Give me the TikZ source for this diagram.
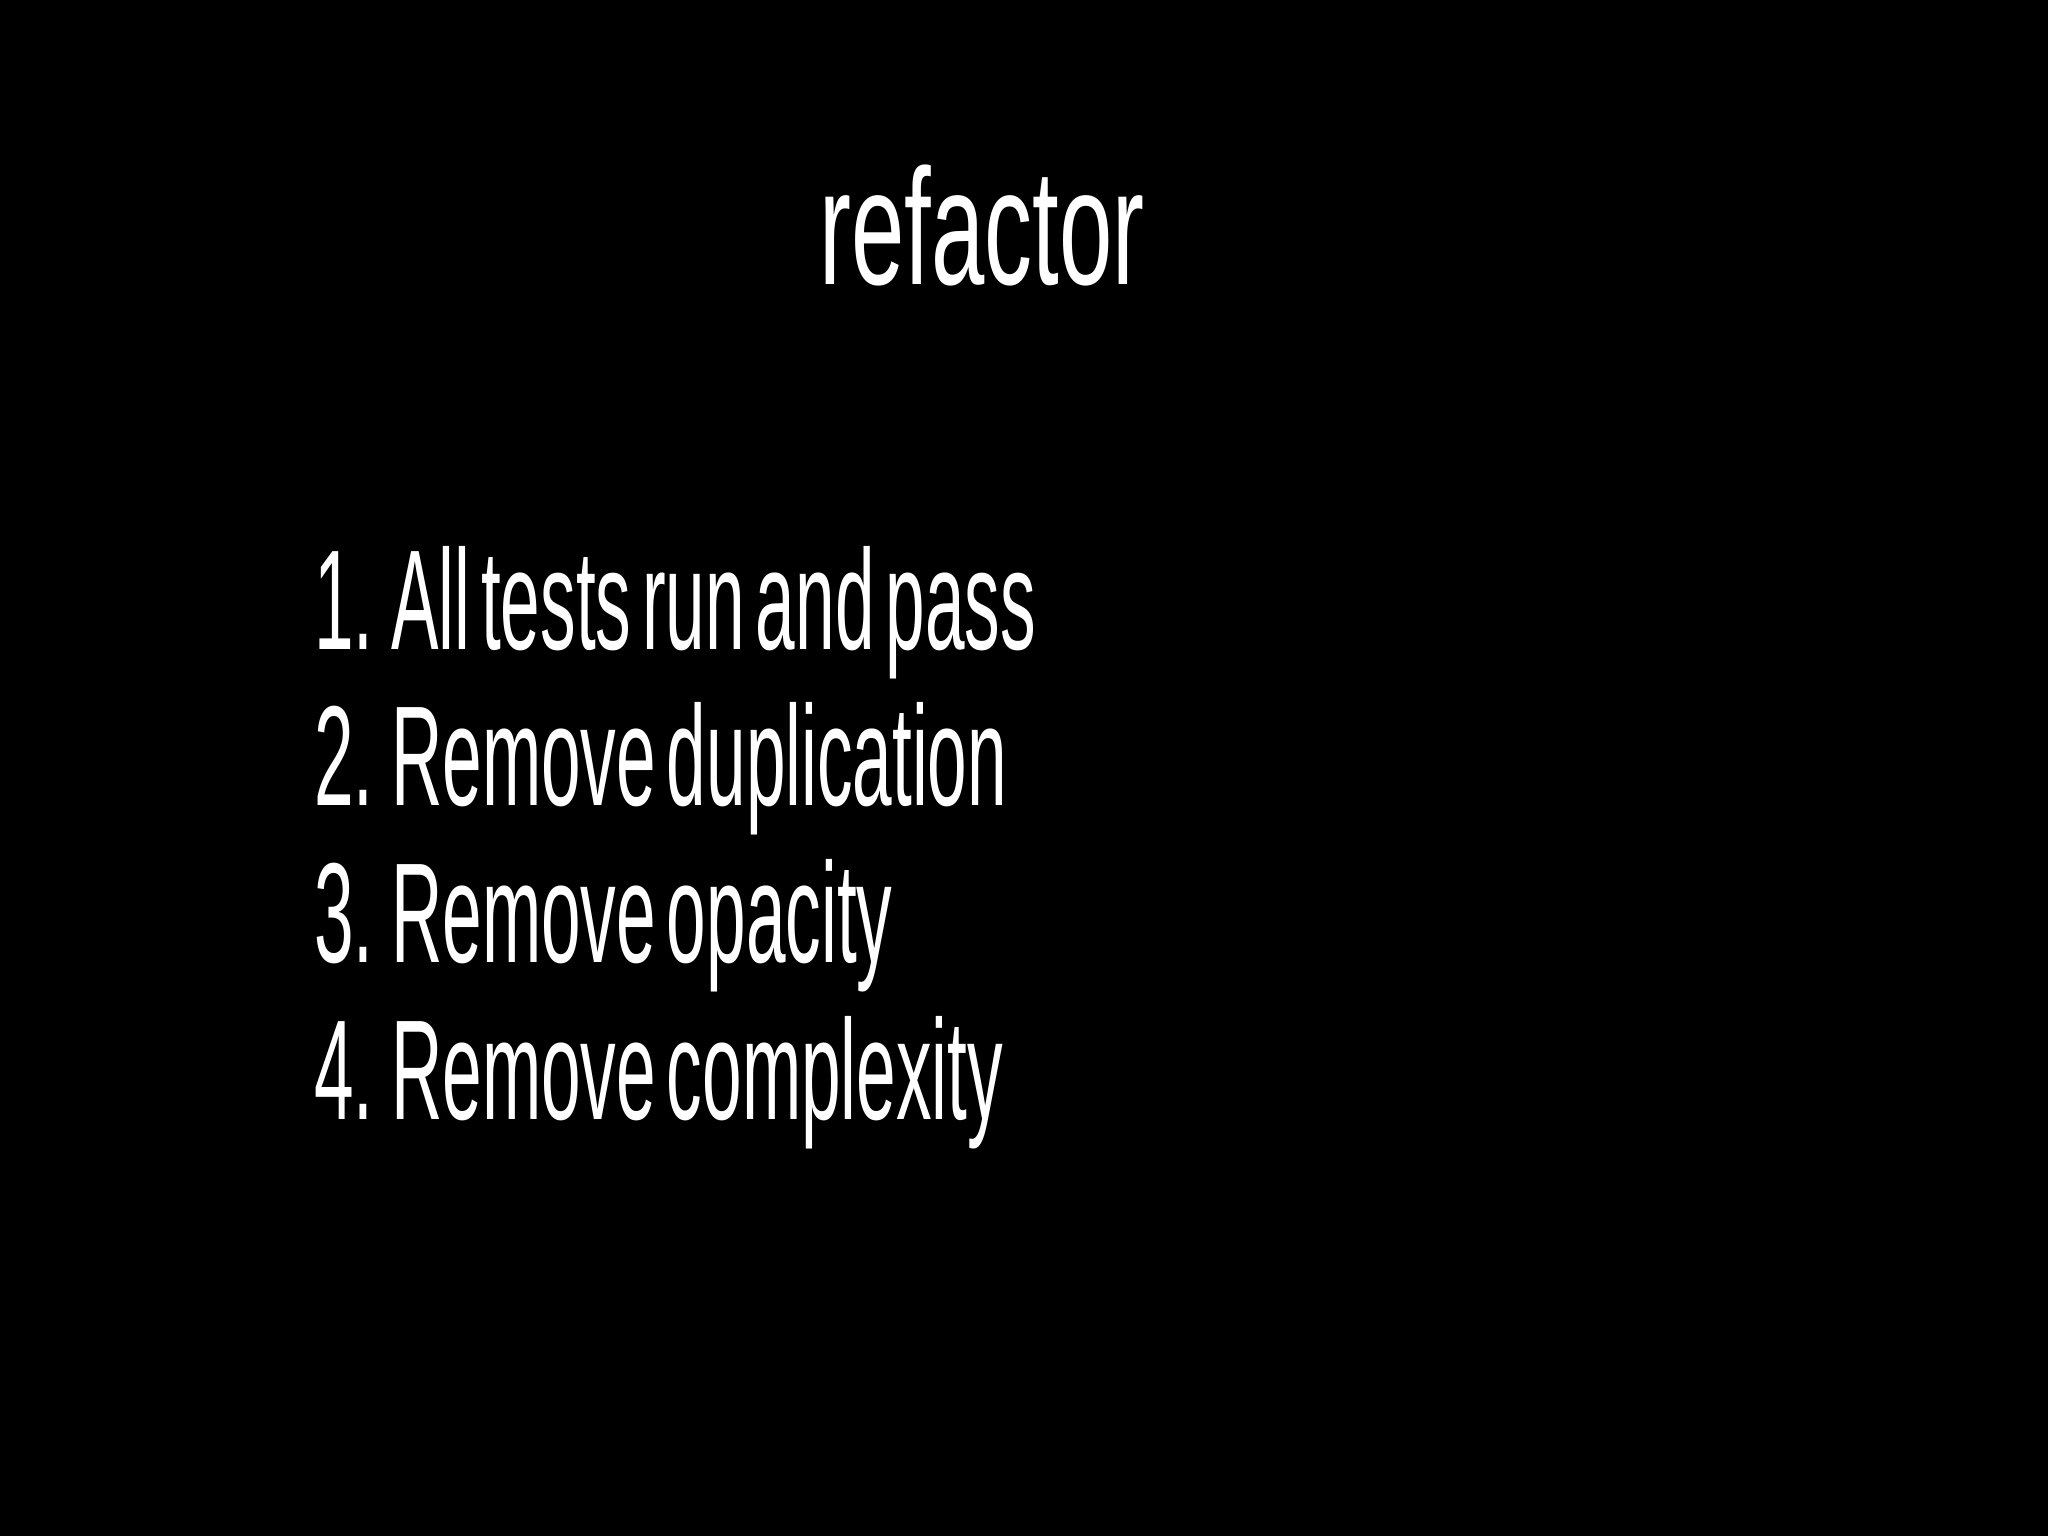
\documentclass[tikz,border=0pt]{standalone}
\usepackage{fontspec}
\newfontfamily\cond[FakeStretch=0.58]{Liberation Sans}
\newfontfamily\condl[FakeStretch=0.5,WordSpace=0.55]{Liberation Sans}
\begin{document}
\begin{tikzpicture}[x=1cm,y=-1cm, txt/.style={text=white,inner sep=0pt}, item/.style={txt,anchor=base west,font=\condl\fontsize{31}{31}\selectfont}]
\fill[black] (0,0) rectangle (15.68,11.76);
\node[txt,anchor=base,font=\cond\fontsize{36}{36}\selectfont] (title) at (7.52,2.18) {refactor};
\node[item] (l1) at (2.40,4.97) {1. All tests run and pass};
\node[item] (l2) at (2.40,6.17) {2. Remove duplication};
\node[item] (l3) at (2.40,7.37) {3. Remove opacity};
\node[item] (l4) at (2.40,8.57) {4. Remove complexity};
\end{tikzpicture}
\end{document}
